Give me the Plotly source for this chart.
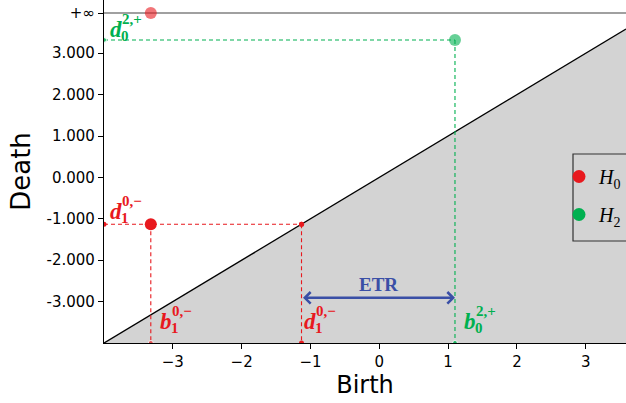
import plotly.graph_objects as go

# Persistence pairs (birth, death); inf deaths are drawn on the +inf line
h0_birth = [-3.32, -3.32]
h0_death = [-1.13, None]          # None -> infinite
h2_birth = [1.10]
h2_death = [3.32]

INF_LEVEL = 3.97
X_RANGE = [-4.0, 3.585]
Y_RANGE = [-4.0, 4.285]

x_ticks = [-3, -2, -1, 0, 1, 2, 3]
x_tick_text = ["\u22123", "\u22122", "\u22121", "0", "1", "2", "3"]
y_ticks = [-3, -2, -1, 0, 1, 2, 3, INF_LEVEL]
y_tick_text = ["-3.000", "-2.000", "-1.000", "0.000", "1.000", "2.000", "3.000", "+\u221e"]

RED = "#e8191e"
GREEN = "#00b050"
BLUE = "#3a4fa6"
SERIF = "Liberation Serif"

fig = go.Figure()

# region below the diagonal
x0, x1 = X_RANGE
y0 = Y_RANGE[0]
fig.add_trace(go.Scatter(x=[x0, x1, x1, x0], y=[y0, x1, y0, y0], fill="toself",
                         fillcolor="#d3d3d3", line=dict(width=0), mode="lines",
                         hoverinfo="skip", showlegend=False))
# diagonal
fig.add_trace(go.Scatter(x=[x0, x1], y=[x0, x1], mode="lines",
                         line=dict(color="black", width=1.4), showlegend=False))
# +inf line
fig.add_trace(go.Scatter(x=[x0, x1], y=[INF_LEVEL, INF_LEVEL], mode="lines",
                         line=dict(color="#808080", width=1.5), showlegend=False))

# finite H0 pair guides
b, d = h0_birth[0], h0_death[0]
dash = "4px,3px"
fig.add_trace(go.Scatter(x=[x0, d], y=[d, d], mode="lines+markers",
                         line=dict(color=RED, width=1.1, dash=dash),
                         marker=dict(size=5, color=RED), showlegend=False))
fig.add_trace(go.Scatter(x=[b, b], y=[d, y0], mode="lines+markers",
                         line=dict(color=RED, width=1.1, dash=dash),
                         marker=dict(size=[0, 5], color=RED), showlegend=False))
fig.add_trace(go.Scatter(x=[d, d], y=[d, y0], mode="lines+markers",
                         line=dict(color=RED, width=1.1, dash=dash),
                         marker=dict(size=5, color=RED), showlegend=False))

# H2 pair guides
gb, gd = h2_birth[0], h2_death[0]
fig.add_trace(go.Scatter(x=[x0, gb], y=[gd, gd], mode="lines+markers",
                         line=dict(color=GREEN, width=1.1, dash=dash),
                         marker=dict(size=[5, 0], color=GREEN), showlegend=False))
fig.add_trace(go.Scatter(x=[gb, gb], y=[gd, y0], mode="lines+markers",
                         line=dict(color=GREEN, width=1.1, dash=dash),
                         marker=dict(size=[0, 5], color=GREEN), showlegend=False))

# diagram points
h0_y = [v if v is not None else INF_LEVEL for v in h0_death]
fig.add_trace(go.Scatter(x=[h0_birth[0]], y=[h0_y[0]], mode="markers",
                         marker=dict(size=12, color=RED), showlegend=False))
fig.add_trace(go.Scatter(x=[h0_birth[1]], y=[h0_y[1]], mode="markers",
                         marker=dict(size=12, color=RED, opacity=0.6), showlegend=False))
fig.add_trace(go.Scatter(x=h2_birth, y=h2_death, mode="markers",
                         marker=dict(size=12, color=GREEN, opacity=0.6), showlegend=False))

# legend entries
fig.add_trace(go.Scatter(x=[None], y=[None], mode="markers", name="<i>H</i><sub>0</sub>",
                         marker=dict(size=13, color=RED), legendgroup="a"))
fig.add_trace(go.Scatter(x=[None], y=[None], mode="markers", name="<i>H</i><sub>2</sub>",
                         marker=dict(size=13, color=GREEN), legendgroup="b"))


def label(letter, sup, sub, x, y, color):
    """Letter with stacked super- and subscript, anchored at its left edge."""
    f_big = dict(family=SERIF, size=23, color=color)
    f_small = dict(family=SERIF, size=15, color=color)
    fig.add_annotation(x=x, y=y, text=f"<b><i>{letter}</i></b>", showarrow=False,
                       xanchor="left", yanchor="middle", font=f_big)
    fig.add_annotation(x=x, y=y, text=f"<b>{sup}</b>", showarrow=False,
                       xanchor="left", yanchor="middle", xshift=12, yshift=10, font=f_small)
    fig.add_annotation(x=x, y=y, text=f"<b>{sub}</b>", showarrow=False,
                       xanchor="left", yanchor="middle", xshift=11, yshift=-7, font=f_small)


label("d", "2,+", "0", -3.94, 3.58, GREEN)
label("d", "0,\u2212", "1", -3.94, -0.82, RED)
label("b", "0,\u2212", "1", -3.22, -3.47, RED)
label("d", "0,\u2212", "1", -1.13, -3.47, RED)
label("b", "2,+", "0", 1.20, -3.47, GREEN)

# ETR double arrow between d_1 and b_0
etr_y = -2.91
fig.add_annotation(x=gb, y=etr_y, ax=d, ay=etr_y, xref="x", yref="y", axref="x", ayref="y",
                   text="", showarrow=True, arrowhead=4, arrowsize=0.9, arrowwidth=2.5,
                   arrowcolor=BLUE, arrowside="end+start")
fig.add_annotation(x=(d + gb) / 2, y=-2.58, text="<b>ETR</b>", showarrow=False,
                   font=dict(family=SERIF, size=19, color=BLUE))

# legend frame
fig.add_shape(type="rect", xref="paper", yref="paper",
              x0=(573 - 104) / 522, x1=1.1, y0=(343 - 241) / 343, y1=(343 - 154) / 343,
              line=dict(color="#333", width=1.2), fillcolor="rgba(0,0,0,0)", layer="above")

fig.update_layout(
    width=626, height=403,
    margin=dict(l=104, r=0, t=0, b=60, autoexpand=False),
    plot_bgcolor="white", paper_bgcolor="white",
    font=dict(family="DejaVu Sans", size=15, color="black"),
    legend=dict(x=(559 - 104) / 522, y=(343 - 157) / 343, xanchor="left", yanchor="top",
                bgcolor="rgba(0,0,0,0)", borderwidth=0,
                font=dict(family=SERIF, size=20), tracegroupgap=9),
    showlegend=True,
)
fig.update_xaxes(range=X_RANGE, tickvals=x_ticks, ticktext=x_tick_text,
                 showgrid=False, zeroline=False, showline=True, linecolor="black",
                 linewidth=1.2, ticks="outside", ticklen=5, tickcolor="black",
                 title=dict(text="Birth", font=dict(size=24), standoff=6))
fig.update_yaxes(range=Y_RANGE, tickvals=y_ticks, ticktext=y_tick_text,
                 showgrid=False, zeroline=False, showline=True, linecolor="black",
                 linewidth=1.2, ticks="outside", ticklen=5, tickcolor="black",
                 title=dict(text="Death", font=dict(size=26), standoff=8))

fig.write_html("out.html")
